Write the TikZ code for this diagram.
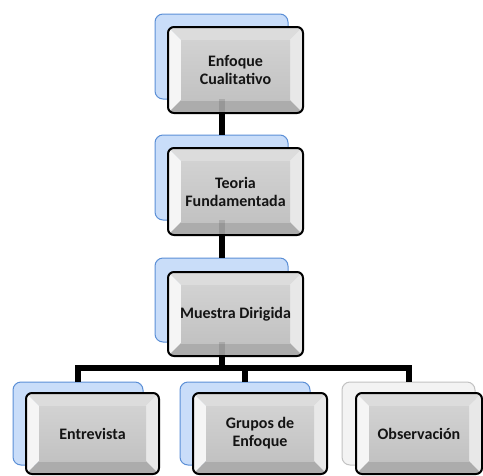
\documentclass[tikz,border=0pt]{standalone}
\usepackage{fontspec}
\setmainfont{Carlito}
\definecolor{bluefill}{HTML}{C9DDF9}
\definecolor{blueline}{HTML}{5B8FD6}
\definecolor{greyback}{HTML}{F3F3F3}
\definecolor{greybackline}{HTML}{C2C2C2}
\definecolor{facetop}{HTML}{D2D2D2}
\definecolor{facebot}{HTML}{C2C2C2}
\definecolor{bevtopc}{HTML}{DCDCDC}
\definecolor{bevleftc}{HTML}{F5F5F5}
\definecolor{bevrightc}{HTML}{E8E8E8}
\definecolor{bevbotc}{HTML}{ACACAC}
\definecolor{txt}{HTML}{141414}
\tikzset{
  backbox/.style={draw=blueline, fill=bluefill, line width=1pt, rounded corners=8pt},
  backgrey/.style={draw=greybackline, fill=greyback, line width=1pt, rounded corners=8pt},
  frontframe/.style={draw=black, line width=2pt, rounded corners=6pt, inner sep=0pt, outer sep=0pt,
     align=center, text=txt, font=\fontsize{16}{18}\selectfont\bfseries},
  conn/.style={draw=black, line width=6pt},
  ghost/.style={draw=black, line width=6pt, opacity=0.12},
}
\newcommand{\BackBox}[6]{% style, name, x1,y1,x2,y2
  \node[#1, minimum width={(#5-#3)*1pt}, minimum height={(#6-#4)*1pt}, inner sep=0pt, outer sep=0pt]
    (#2) at ({(#3+#5)/2},{(#4+#6)/2}) {};
}
\newcommand{\FrontBox}[6]{% name, x1,y1,x2,y2, text
  \begin{scope}
    \clip[rounded corners=6pt] (#2,#3) rectangle (#4,#5);
    \fill[bevtopc] (#2,#3) -- (#4,#3) -- (#4-13,#3+13) -- (#2+13,#3+13) -- cycle;
    \fill[bevleftc] (#2,#3) -- (#2+13,#3+13) -- (#2+13,#5-13) -- (#2,#5) -- cycle;
    \fill[bevrightc] (#4,#3) -- (#4-13,#3+13) -- (#4-13,#5-13) -- (#4,#5) -- cycle;
    \fill[bevbotc] (#2,#5) -- (#2+13,#5-13) -- (#4-13,#5-13) -- (#4,#5) -- cycle;
    \shade[top color=facetop, bottom color=facebot] (#2+13,#3+13) rectangle (#4-13,#5-13);
  \end{scope}
  \node[frontframe, minimum width={(#4-#2)*1pt}, minimum height={(#5-#3)*1pt}]
    (#1) at ({(#2+#4)/2},{(#3+#5)/2}) {#6};
}
\begin{document}
\begin{tikzpicture}[x=1pt, y=-1pt]
  \useasboundingbox (0,0) rectangle (483,475);
  % back boxes
  \BackBox{backbox}{b1}{155}{14}{288}{99}
  \BackBox{backbox}{b2}{155}{135}{288}{220}
  \BackBox{backbox}{b3}{155}{258}{288}{342}
  \BackBox{backbox}{b4}{13}{382}{143}{465}
  \BackBox{backbox}{b5}{180}{382}{310}{465}
  \BackBox{backgrey}{b6}{342}{382}{475}{465}
  % connectors
  \coordinate (h) at (221.5,368);
  \draw[conn] (b1.south) -- (b2.north);
  \draw[conn] (b2.south) -- (b3.north);
  \draw[conn] (b3.south) -- (h);
  \draw[conn] (b4.north) |- (h) -| (b6.north);
  \draw[conn] (b5.north) -- (b5.north |- h);
  % front boxes
  \FrontBox{f1}{168}{27}{303}{113}{Enfoque\\Cualitativo}
  \FrontBox{f2}{168}{148}{303}{235}{Teoria\\Fundamentada}
  \FrontBox{f3}{168}{272}{303}{356}{Muestra Dirigida}
  \FrontBox{f4}{26}{393}{159}{474}{Entrevista}
  \FrontBox{f5}{193}{393}{327}{474}{Grupos de\\Enfoque}
  \FrontBox{f6}{356}{393}{482}{474}{Observación}
  % faint connector showing through
  \draw[ghost] (b1.south) -- (b1.south |- f1.south);
  \draw[ghost] (b2.south) -- (b2.south |- f2.south);
  \draw[ghost] (b3.south) -- (b3.south |- f3.south);
\end{tikzpicture}
\end{document}
